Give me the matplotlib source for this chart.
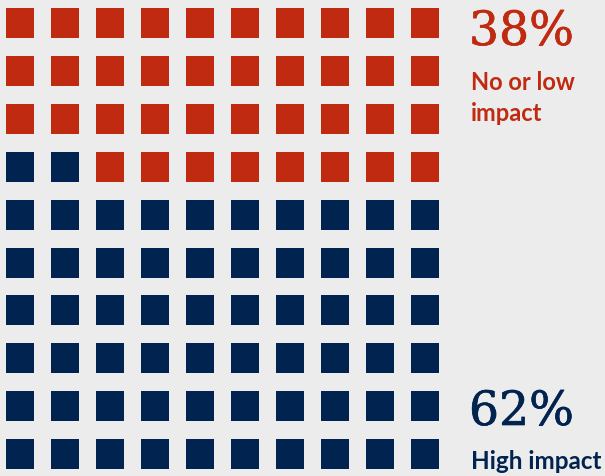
import matplotlib.pyplot as plt
import matplotlib.patheffects as pe
from matplotlib.patches import Rectangle

# waffle data: 100 squares, filled from the bottom row upwards
categories = ['High impact', 'No or low impact']
shares = [62, 38]
pct_labels = ['62%', '38%']
colors = ['#00234f', '#bf2a10']

n_rows, n_cols = 10, 10

fig = plt.figure(figsize=(6.05, 4.77), dpi=100, facecolor='#ececec')
ax = fig.add_axes([0, 0, 1, 1])
ax.set_facecolor('#ececec')
ax.set_xlim(0, 605)
ax.set_ylim(477, 0)
ax.axis('off')

# cell geometry in pixels
x0, y0, dx, dy, w, h = 6, 9, 45, 47.9, 28, 30

cell_colors = []
for c, n in zip(colors, shares):
    cell_colors += [c] * n
for i, c in enumerate(cell_colors):
    row = n_rows - 1 - i // n_cols
    col = i % n_cols
    ax.add_patch(Rectangle((x0 + col * dx, y0 + row * dy), w, h, color=c, lw=0))

serif = ['DejaVu Serif']
sans = ['Lato', 'DejaVu Sans']


def heavy(c):
    # thicken the book-weight serif slightly
    return [pe.Stroke(linewidth=0.5, foreground=c), pe.Normal()]


ax.text(469, 46, pct_labels[1], color=colors[1], fontsize=34, family=serif,
        va='baseline', ha='left', path_effects=heavy(colors[1]))
ax.text(471, 90, 'No or low', color=colors[1], fontsize=17, family=sans,
        fontweight='bold', va='baseline', ha='left')
ax.text(471, 121, 'impact', color=colors[1], fontsize=17, family=sans,
        fontweight='bold', va='baseline', ha='left')

ax.text(469, 426, pct_labels[0], color=colors[0], fontsize=34, family=serif,
        va='baseline', ha='left', path_effects=heavy(colors[0]))
ax.text(471, 469, 'High impact', color=colors[0], fontsize=17.5, family=sans,
        fontweight='bold', va='baseline', ha='left')

fig.savefig('out.png', dpi=100, facecolor=fig.get_facecolor())
